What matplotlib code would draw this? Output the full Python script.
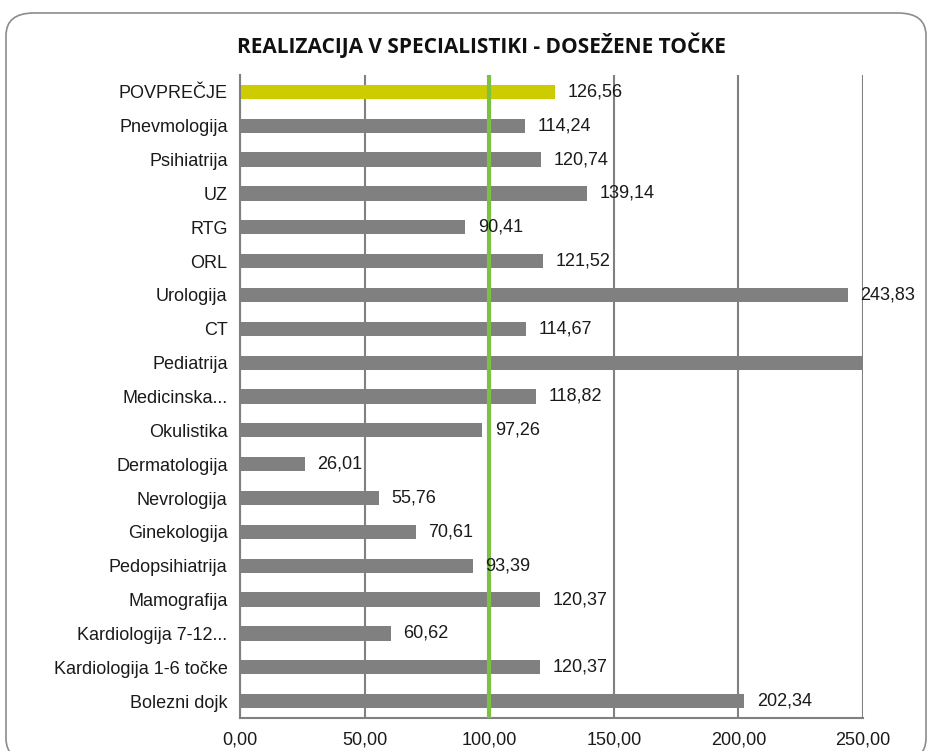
#!/usr/bin/env python3
"""Realizacija v specialistiki - dosezene tocke (horizontal bar chart)."""

import matplotlib

matplotlib.use("Agg")
import matplotlib.pyplot as plt
from matplotlib.patches import FancyBboxPatch
import numpy as np

CATEGORIES = [
    "POVPREČJE", "Pnevmologija", "Psihiatrija", "UZ", "RTG", "ORL", "Urologija",
    "CT", "Pediatrija", "Medicinska...", "Okulistika", "Dermatologija",
    "Nevrologija", "Ginekologija", "Pedopsihiatrija", "Mamografija",
    "Kardiologija 7-12...", "Kardiologija 1-6 točke", "Bolezni dojk",
]
VALUES = [
    126.56, 114.24, 120.74, 139.14, 90.41, 121.52, 243.83,
    114.67, 268.00, 118.82, 97.26, 26.01,
    55.76, 70.61, 93.39, 120.37,
    60.62, 120.37, 202.34,
]
X_TICKS = [0, 50, 100, 150, 200, 250]
TARGET = 100
TITLE = "REALIZACIJA V SPECIALISTIKI - DOSEŽENE TOČKE"

BAR_GREY = "#808080"
AVG_YELLOW = "#cccc00"
TARGET_GREEN = "#7cc242"
TEXT = "#1a1a1a"


def fmt(v: float) -> str:
    return f"{v:.2f}".replace(".", ",")


def main() -> None:
    plt.rcParams["font.family"] = ["Liberation Sans", "DejaVu Sans"]
    fig = plt.figure(figsize=(9.31, 7.51), dpi=100)

    # rounded chart border
    border = FancyBboxPatch(
        (6 / 931, -10 / 751), 920 / 931, 748 / 751,
        boxstyle="round,pad=0,rounding_size=0.03",
        transform=fig.transFigure, facecolor="none",
        edgecolor="#8c8c8c", linewidth=1.2, zorder=-1,
    )
    fig.patches.append(border)

    ax = fig.add_axes([240 / 931, 33 / 751, 623 / 931, 643 / 751])
    ax.set_facecolor("none")

    y = np.arange(len(CATEGORIES))
    colors = [AVG_YELLOW] + [BAR_GREY] * (len(CATEGORIES) - 1)
    ax.barh(y, VALUES, height=0.42, color=colors, zorder=2)

    for yi, v in zip(y, VALUES):
        if v <= X_TICKS[-1]:
            ax.annotate(fmt(v), (v, yi), xytext=(9, 0), textcoords="offset points",
                        va="center", ha="left", fontsize=13, color=TEXT, zorder=4)

    ax.axvline(TARGET, color=TARGET_GREEN, linewidth=3, zorder=3)

    ax.set_xlim(0, X_TICKS[-1])
    ax.set_ylim(len(CATEGORIES) - 0.5, -0.5)
    ax.set_xticks(X_TICKS)
    ax.set_xticklabels([fmt(t) for t in X_TICKS])
    ax.set_yticks(y)
    ax.set_yticklabels(CATEGORIES)
    ax.tick_params(axis="both", length=0, labelsize=13, labelcolor=TEXT)
    ax.tick_params(axis="x", pad=10)
    ax.tick_params(axis="y", pad=9)

    ax.grid(axis="x", color=BAR_GREY, linewidth=1.5, zorder=1)
    ax.set_axisbelow(True)
    for side in ("top", "right"):
        ax.spines[side].set_visible(False)
    for side in ("left", "bottom"):
        ax.spines[side].set_color(BAR_GREY)
        ax.spines[side].set_linewidth(1.5)

    fig.text(481 / 931, 1 - 45 / 751, TITLE, ha="center", va="center",
             fontsize=15, fontweight="bold", family="Open Sans", color="#111111")

    fig.savefig("out.png", dpi=100, facecolor="white")
    plt.close(fig)


if __name__ == "__main__":
    main()
